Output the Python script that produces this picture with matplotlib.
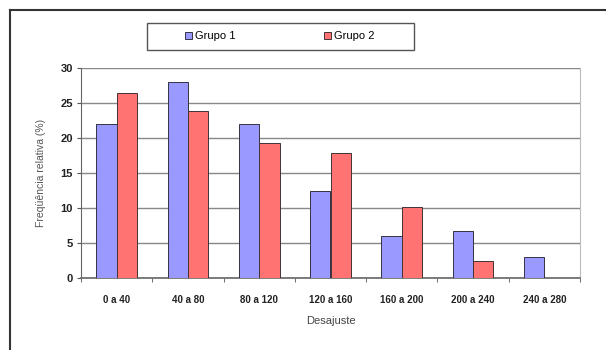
import numpy as np
import matplotlib.pyplot as plt
from matplotlib.lines import Line2D
from matplotlib.patches import Rectangle

# data
categories = ['0 a 40', '40 a 80', '80 a 120', '120 a 160', '160 a 200', '200 a 240', '240 a 280']
grupo1 = [22.0, 28.0, 22.0, 12.5, 6.0, 6.7, 3.0]
grupo2 = [26.4, 23.9, 19.3, 17.8, 10.1, 2.5, 0.0]
yticks = [0, 5, 10, 15, 20, 25, 30]

W, H = 606, 350
fig = plt.figure(figsize=(W / 100, H / 100), dpi=100)
fig.patch.set_facecolor('white')

ax = fig.add_axes([81 / W, 72 / H, 499 / W, 210 / H])

x = np.arange(len(categories))
bw = 1 / 3.5
ax.bar(x - bw / 2, grupo1, width=bw, color='#9999FF', edgecolor='#333344', linewidth=0.7,
       label='Grupo 1', zorder=3)
ax.bar(x + bw / 2, grupo2, width=bw, color='#FF7373', edgecolor='#443333', linewidth=0.7,
       label='Grupo 2', zorder=3)

ax.set_xlim(-0.5, len(categories) - 0.5)
ax.set_ylim(0, 30)
ax.set_yticks(yticks)
ax.set_yticklabels([str(v) for v in yticks], fontsize=8, fontweight='bold',
                   family='Liberation Sans', color='#222222')
ax.set_xticks(x)
ax.set_xticklabels(categories, fontsize=7, fontweight='bold', family='Liberation Sans',
                   color='#222222')
ax.tick_params(axis='x', length=0, pad=12)
ax.set_xticks(np.arange(len(categories) + 1) - 0.5, minor=True)
ax.tick_params(axis='x', which='minor', length=3, color='#555555')
ax.tick_params(axis='y', length=3, color='#555555', pad=3)

ax.grid(axis='y', color='#888888', linewidth=1.0, zorder=0)
ax.spines['top'].set_visible(False)
ax.spines['right'].set_color('#bbbbbb')
ax.spines['left'].set_color('#666666')
ax.spines['bottom'].set_color('#666666')
ax.spines['bottom'].set_linewidth(1.2)

ax.set_xlabel('Desajuste', fontsize=8, family='Liberation Sans', color='#444444', labelpad=8)
ax.set_ylabel('Freqüência relativa (%)', fontsize=7.5, family='Liberation Sans',
              color='#555555', labelpad=10)

# legend: entries centred, frame drawn separately
fig.legend(loc='center', bbox_to_anchor=(280 / W, 1 - 36 / H), ncol=2, frameon=False,
           prop={'family': 'Liberation Sans', 'size': 8}, handlelength=0.6, handleheight=0.6,
           handletextpad=0.3, columnspacing=8.0)
fig.add_artist(Rectangle((147 / W, 1 - 50 / H), 267 / W, 27 / H, transform=fig.transFigure,
                         fill=False, edgecolor='#555555', linewidth=1.0))

# outer chart border (left and top edges visible)
fig.add_artist(Line2D([10 / W, 10 / W], [0, 1 - 10 / H], transform=fig.transFigure,
                      color='#333333', linewidth=1.5))
fig.add_artist(Line2D([10 / W, 1], [1 - 10 / H, 1 - 10 / H], transform=fig.transFigure,
                      color='#333333', linewidth=1.5))

fig.savefig('out.png', dpi=100)
